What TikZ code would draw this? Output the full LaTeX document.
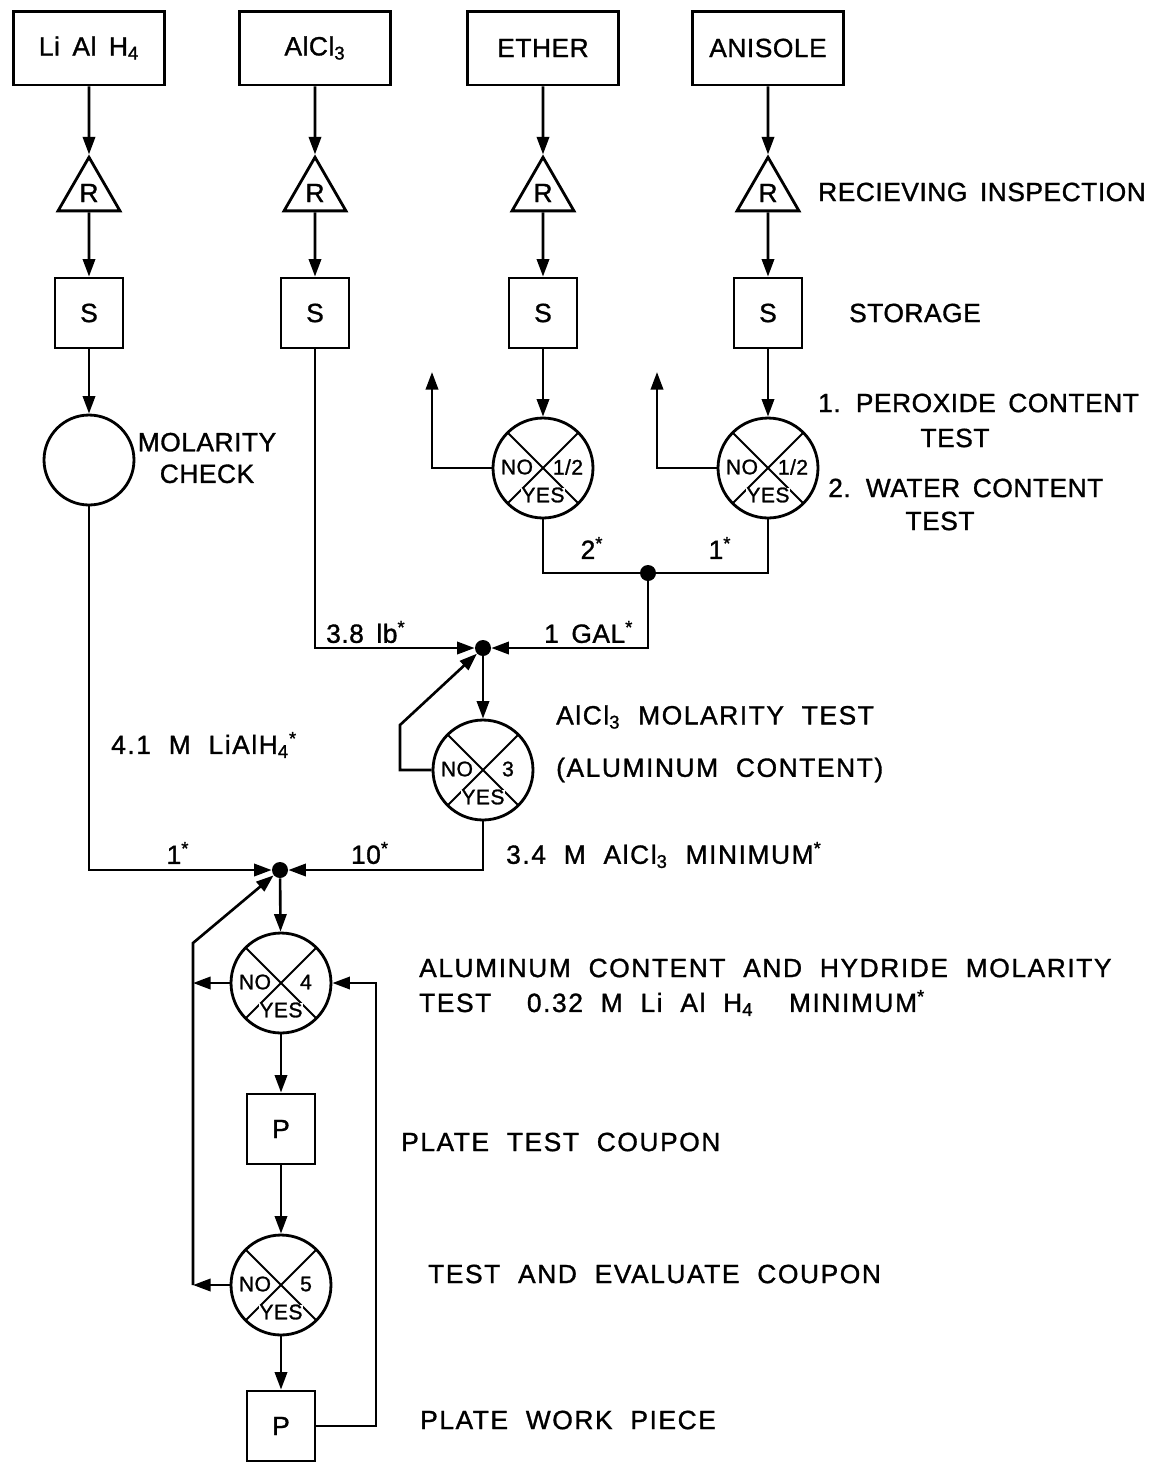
\documentclass[tikz,border=0pt]{standalone}
\usepackage{fontspec}
\setmainfont{Liberation Sans}[LetterSpace=2, WordSpace=1.6, FakeBold=1.2]
\newfontfamily\spread{Liberation Sans}[LetterSpace=6, WordSpace=2, FakeBold=1.2]
\usepackage{tikz}
\usetikzlibrary{shapes.geometric, arrows.meta, positioning, calc}

\newcommand{\lblfont}{\fontsize{15}{18}\selectfont}
\newcommand{\qmarks}[2]{%
  \node[qtext] (#1-no) at ([shift={(-26,-1)}]#1.center) {NO};
  \node[qtext] (#1-num) at ([shift={(25,-1)}]#1.center) {#2};
  \node[qtext] (#1-yes) at ([shift={(0,27)}]#1.center) {YES};}

\begin{document}
\begin{tikzpicture}[
    x=0.02cm, y=-0.02cm,
    every node/.style={font=\lblfont},
    srcbox/.style={rectangle, draw, line width=1.7pt, minimum width=3.04cm, minimum height=1.48cm},
    recv/.style={regular polygon, regular polygon sides=3, draw, line width=1.6pt, minimum size=1.43cm, inner sep=0pt},
    store/.style={rectangle, draw, line width=1.6pt, minimum width=1.36cm, minimum height=1.4cm},
    check/.style={circle, draw, line width=1.6pt, minimum size=1.8cm},
    decide/.style={circle, draw, line width=1.6pt, minimum size=2cm, inner sep=0pt,
        path picture={\draw[line width=1.1pt] (path picture bounding box.south west) -- (path picture bounding box.north east)
                      (path picture bounding box.north west) -- (path picture bounding box.south east);}},
    qtext/.style={font=\fontsize{12}{13}\selectfont, inner sep=0pt, fill=white},
    dot/.style={circle, fill, inner sep=0pt, minimum size=0.32cm},
    flow/.style={-{Triangle[length=10pt,width=7pt]}, line width=1.5pt},
    wire/.style={line width=1.5pt}
]
\useasboundingbox (0,0) rectangle (1149,1465);

% Raw materials
\node[srcbox] (li) at (89,48) {Li Al H\textsubscript{4}};
\node[srcbox] (al) at (315,48) {AlCl\textsubscript{3}};
\node[srcbox] (eth) at (543,48) {ETHER};
\node[srcbox] (ani) at (768,48) {ANISOLE};

% Receiving inspection
\node[recv] (rli) at (89,193) {R};
\node[recv] (ral) at (315,193) {R};
\node[recv] (reth) at (543,193) {R};
\node[recv] (rani) at (768,193) {R};

% Storage
\node[store] (sli) at (89,313) {S};
\node[store] (sal) at (315,313) {S};
\node[store] (seth) at (543,313) {S};
\node[store] (sani) at (768,313) {S};

% Checks and tests
\node[check] (mol) at (89,460) {};
\node[decide] (qeth) at (543,468) {};
\node[decide] (qani) at (768,468) {};
\node[decide] (q3) at (483,770) {};
\node[decide] (q4) at (281,983) {};
\node[decide] (q5) at (281,1285) {};
\qmarks{qeth}{1/2}
\qmarks{qani}{1/2}
\qmarks{q3}{3}
\qmarks{q4}{4}
\qmarks{q5}{5}

% Plating
\node[store] (p1) at (281,1129) {P};
\node[store] (p2) at (281,1426) {P};

% Junctions
\node[dot] (dotE) at (648,573) {};
\node[dot] (j2) at (483,648) {};
\node[dot] (j1) at (280,870) {};
\coordinate (ethup) at (432,372);
\coordinate (aniup) at (657,372);
\coordinate (l3) at (400,725);
\coordinate (lup) at (193,943);
\coordinate (llow) at (193,1285);
\coordinate (rloop) at (376,1200);

% Arrows
\foreach \a/\b/\c in {li/rli/sli, al/ral/sal, eth/reth/seth, ani/rani/sani}{
  \draw[flow] (\a) -- (\b);
  \draw[flow] (\b) -- (\c);
}
\draw[flow] (sli) -- (mol);
\draw[flow] (seth) -- (qeth);
\draw[flow] (sani) -- (qani);
\draw[flow] (qeth.west) -| (ethup);
\draw[flow] (qani.west) -| (aniup);
\draw[wire] (qeth.south) |- (dotE.center) -| (qani.south);
\draw[flow] (dotE) |- (j2);
\draw[flow] (sal) |- (j2);
\draw[flow] (j2) -- (q3);
\draw[flow] (q3.west) -| (l3) -- (j2);
\draw[flow] (q3) |- (j1);
\draw[flow] (mol) |- (j1);
\draw[flow] (j1) -- (q4);
\draw[flow] (llow) -- (lup) -- (j1);
\draw[flow] (q4.west) -- (q4.west -| lup);
\draw[flow] (q5.west) -- (q5.west -| lup);
\draw[flow] (q4) -- (p1);
\draw[flow] (p1) -- (q5);
\draw[flow] (q5) -- (p2);
\draw[flow] (p2.east) -| (rloop) |- (q4.east);

% Quantities
\node[align=center] (molchk) at (207,458) {MOLARITY\\CHECK};
\node (two) at (592,548) {2\textsuperscript{*}};
\node (oneb) at (720,548) {1\textsuperscript{*}};
\node[anchor=west] (lb) at (320,632) {3.8 lb\textsuperscript{*}};
\node[anchor=west] (gal) at (538,632) {1 GAL\textsuperscript{*}};
\node[anchor=west] (lih) at (105,745) {\spread 4.1 M LiAlH\textsubscript{4}\textsuperscript{*}};
\node (one) at (178,853) {1\textsuperscript{*}};
\node (ten) at (370,853) {10\textsuperscript{*}};
\node[anchor=west] (min3) at (500,855) {\spread 3.4 M AlCl\textsubscript{3} MINIMUM\textsuperscript{*}};

% Step notes
\node[anchor=west] (rinsp) at (812,192) {RECIEVING INSPECTION};
\node[anchor=west] (stor) at (843,313) {STORAGE};
\node[anchor=west] (perox) at (812,403) {1. PEROXIDE CONTENT};
\node (peroxt) at (955,438) {TEST};
\node[anchor=west] (water) at (822,488) {2. WATER CONTENT};
\node (watert) at (940,521) {TEST};
\node[anchor=west] (mol3) at (550,717) {\spread AlCl\textsubscript{3} MOLARITY TEST};
\node[anchor=west] (alcont) at (550,770) {\spread (ALUMINUM CONTENT)};
\node[anchor=west] (hyd) at (413,968) {\spread ALUMINUM CONTENT AND HYDRIDE MOLARITY};
\node[anchor=west] (hydb) at (413,1003) {\spread TEST \ 0.32 M Li Al H\textsubscript{4} \ MINIMUM\textsuperscript{*}};
\node[anchor=west] (platec) at (395,1142) {\spread PLATE TEST COUPON};
\node[anchor=west] (evalc) at (422,1274) {\spread TEST AND EVALUATE COUPON};
\node[anchor=west] (platew) at (414,1420) {\spread PLATE WORK PIECE};
\end{tikzpicture}
\end{document}
